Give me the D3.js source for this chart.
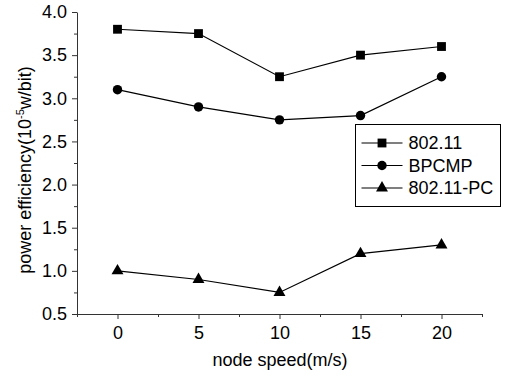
<!DOCTYPE html>
<html>
<head>
<meta charset="utf-8">
<script src="https://cdn.jsdelivr.net/npm/d3@7"></script>
<style>
  body { margin: 0; background: #fff; }
  svg { font-family: "Liberation Sans", Arial, sans-serif; }
</style>
</head>
<body>
<svg id="chart" width="505" height="378"></svg>
<script>
// data
const speeds = [0, 5, 10, 15, 20];
const seriesNames = ["802.11", "BPCMP", "802.11-PC"];
const eff80211 = [3.8, 3.75, 3.25, 3.5, 3.6];
const effBPCMP = [3.1, 2.9, 2.75, 2.8, 3.25];
const eff80211PC = [1.0, 0.9, 0.75, 1.2, 1.3];
const xTicks = [0, 5, 10, 15, 20];
const yTicks = [0.5, 1.0, 1.5, 2.0, 2.5, 3.0, 3.5, 4.0];

const svg = d3.select("#chart");
const plot = { left: 77, right: 482, top: 12, bottom: 314 };
const FONT = "18px";

const x = d3.scaleLinear().domain([-2.5, 22.5]).range([plot.left, plot.right]);
const y = d3.scaleLinear().domain([0.5, 4.0]).range([plot.bottom, plot.top]);

const series = [
  { name: seriesNames[0], values: eff80211, shape: d3.symbolSquare },
  { name: seriesNames[1], values: effBPCMP, shape: d3.symbolCircle },
  { name: seriesNames[2], values: eff80211PC, shape: d3.symbolTriangle }
];
const symbolSize = { "802.11": 78, "BPCMP": 70, "802.11-PC": 62 };

// minor ticks
const xMinor = d3.range(-2.5, 23, 5);
const yMinor = d3.range(0.75, 4, 0.5);

svg.append("g")
  .attr("transform", "translate(0," + plot.bottom + ")")
  .call(d3.axisBottom(x).tickValues(xMinor).tickSize(3).tickFormat(""))
  .call(g => g.select(".domain").remove());
svg.append("g")
  .attr("class", "x-axis")
  .attr("transform", "translate(0," + plot.bottom + ")")
  .call(d3.axisBottom(x).tickValues(xTicks).tickSize(5).tickSizeOuter(0).tickPadding(7).tickFormat(d3.format("d")));

svg.append("g")
  .attr("transform", "translate(" + plot.left + ",0)")
  .call(d3.axisLeft(y).tickValues(yMinor).tickSize(3).tickFormat(""))
  .call(g => g.select(".domain").remove());
svg.append("g")
  .attr("class", "y-axis")
  .attr("transform", "translate(" + plot.left + ",0)")
  .call(d3.axisLeft(y).tickValues(yTicks).tickSize(5).tickSizeOuter(0).tickPadding(5).tickFormat(d3.format(".1f")));

svg.selectAll(".domain, .tick line").attr("stroke", "#333");
svg.selectAll(".tick text")
  .attr("fill", "#000")
  .style("font-size", FONT)
  .style("font-family", "Liberation Sans, Arial, sans-serif");

// axis titles
svg.append("text")
  .attr("x", 280)
  .attr("y", 366)
  .attr("text-anchor", "middle")
  .style("font-size", FONT)
  .text("node speed(m/s)");

const yTitle = svg.append("text")
  .attr("transform", "translate(31,170) rotate(-90)")
  .attr("text-anchor", "middle")
  .style("font-size", FONT);
yTitle.append("tspan").text("power efficiency(10");
yTitle.append("tspan").attr("dy", -7).style("font-size", "11px").text("-5");
yTitle.append("tspan").attr("dy", 7).text("w/bit)");

const line = d3.line()
  .x((d, i) => x(speeds[i]))
  .y(d => y(d));

series.forEach(s => {
  svg.append("path")
    .attr("d", line(s.values))
    .attr("fill", "none")
    .attr("stroke", "#000")
    .attr("stroke-width", 1.2);
  svg.selectAll(null)
    .data(s.values)
    .join("path")
    .attr("transform", (d, i) => "translate(" + x(speeds[i]) + "," + y(d) + ")")
    .attr("d", d3.symbol().type(s.shape).size(symbolSize[s.name]))
    .attr("fill", "#000");
});

// legend
const legend = svg.append("g").attr("transform", "translate(355.5,124.5)");
legend.append("rect")
  .attr("width", 145)
  .attr("height", 82)
  .attr("fill", "#fff")
  .attr("stroke", "#000")
  .attr("stroke-width", 1);
series.forEach((s, i) => {
  const cy = 18.5 + i * 22.5;
  legend.append("line")
    .attr("x1", 6).attr("x2", 47)
    .attr("y1", cy).attr("y2", cy)
    .attr("stroke", "#000").attr("stroke-width", 1.2);
  legend.append("path")
    .attr("transform", "translate(26.5," + cy + ")")
    .attr("d", d3.symbol().type(s.shape).size(symbolSize[s.name]))
    .attr("fill", "#000");
  legend.append("text")
    .attr("x", 53)
    .attr("y", cy)
    .attr("dy", "0.35em")
    .style("font-size", FONT)
    .text(s.name);
});
</script>
</body>
</html>
